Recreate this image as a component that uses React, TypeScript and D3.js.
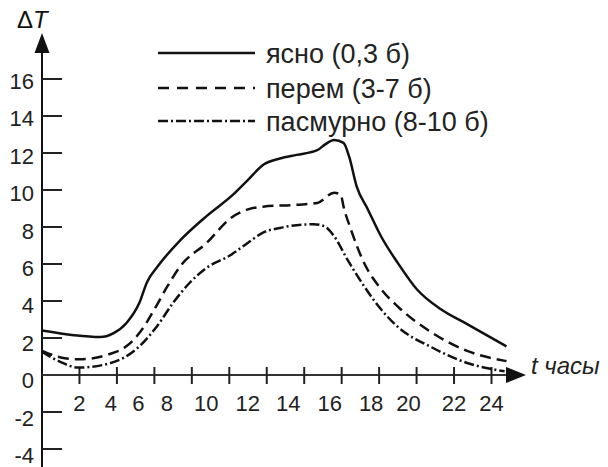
import React from "react";
import * as d3 from "d3";

// ---- data ----
const clearHours = [0, 1.7, 3.1, 3.8, 4.5, 5.2, 5.6, 6.2, 7.4, 8.8, 10.2, 11.0, 11.8, 12.7, 13.6, 14.7, 15.1, 15.6, 16.1, 16.4, 16.8, 17.4, 18.1, 19.0, 20.0, 21.3, 22.7, 24.8];
const clearValues = [2.4, 2.15, 2.05, 2.25, 2.8, 3.9, 5.0, 5.9, 7.3, 8.6, 9.75, 10.55, 11.35, 11.7, 11.9, 12.15, 12.45, 12.7, 12.55, 11.8, 10.2, 8.95, 7.5, 6.05, 4.65, 3.55, 2.75, 1.55];

const varHours = [0, 1.0, 2.0, 3.5, 4.5, 5.3, 6.0, 6.7, 7.4, 8.8, 10.1, 11.0, 11.8, 13.6, 14.7, 15.6, 15.95, 16.1, 16.5, 17.2, 18.1, 19.0, 20.8, 22.7, 24.8];
const varValues = [1.3, 0.95, 0.85, 1.1, 1.55, 2.4, 3.55, 4.8, 5.9, 7.15, 8.5, 8.95, 9.1, 9.2, 9.3, 9.85, 9.75, 9.1, 7.85, 6.05, 4.65, 3.7, 2.3, 1.3, 0.75];

const overcastHours = [0, 1.0, 1.9, 3.5, 4.4, 5.2, 6.15, 7.0, 7.9, 8.8, 10.1, 11.0, 11.8, 12.7, 14.5, 15.05, 15.6, 16.3, 17.2, 18.1, 19.0, 20.8, 22.7, 24.7];
const overcastValues = [1.25, 0.7, 0.4, 0.6, 0.95, 1.55, 2.65, 3.9, 5.0, 5.8, 6.5, 7.15, 7.7, 7.95, 8.15, 8.05, 7.5, 6.25, 4.8, 3.55, 2.6, 1.5, 0.65, 0.2];

const seriesNames = ["ясно (0,3 б)", "перем (3-7 б)", "пасмурно (8-10 б)"];

const xTickValues = [2, 4, 6, 8, 10, 12, 14, 16, 18, 20, 22, 24];
const yTickValues = [16, 14, 12, 10, 8, 6, 4, 2, -2, -4];
const yLabelValues = [16, 14, 12, 10, 8, 6, 4, 2, 0, -2, -4];

// layout / style
const W = 608;
const H = 467;
const FONT = "'Liberation Sans', Arial, sans-serif";
const xLabelShift = [0, -6, -16, -25, -23, -19, -16, -12, -8, -8, 0, 0];
const dashStyles = ["none", "11,6", "10,3,2,3"];
const legendDash = ["none", "11,8", "10,3,2,3"];

export default function App() {
  const x = d3.scaleLinear().domain([0, 24]).range([42, 491.5]);
  const y = d3.scaleLinear().domain([0, 16]).range([375, 79]);

  const series = [
    clearHours.map((h, i) => [h, clearValues[i]] as [number, number]),
    varHours.map((h, i) => [h, varValues[i]] as [number, number]),
    overcastHours.map((h, i) => [h, overcastValues[i]] as [number, number]),
  ];

  const line = d3
    .line<[number, number]>()
    .x((d) => x(d[0]))
    .y((d) => y(d[1]))
    .curve(d3.curveMonotoneX);

  const axisX = x(0);
  const axisY = y(0);

  return (
    <svg
      width={W}
      height={H}
      viewBox={`0 0 ${W} ${H}`}
      style={{ position: "absolute", left: 0, top: 0, background: "#fff" }}
      fontFamily={FONT}
    >
      <rect x={0} y={0} width={W} height={H} fill="#fff" />

      {/* y axis */}
      <line x1={axisX} y1={H} x2={axisX} y2={50} stroke="#111" strokeWidth={2} />
      <path d={`M${axisX},33 L${axisX - 7.5},53 L${axisX + 7.5},53 Z`} fill="#111" />
      {yTickValues.map((v) => (
        <line key={"yt" + v} x1={axisX} x2={axisX + 20} y1={y(v)} y2={y(v)} stroke="#222" strokeWidth={2} />
      ))}
      {yLabelValues.map((v) => (
        <text
          key={"yl" + v}
          x={34}
          y={y(v) + 2.5 + (16 - v) * 0.2}
          textAnchor="end"
          dominantBaseline="central"
          fontSize={22}
          fill="#222"
        >
          {v}
        </text>
      ))}
      <text x={17} y={28} fontSize={24} fill="#111">
        Δ<tspan fontStyle="italic">T</tspan>
      </text>

      {/* x axis */}
      <line x1={axisX} y1={axisY} x2={510} y2={axisY} stroke="#333" strokeWidth={2} />
      <path d={`M526,${axisY} L506,${axisY - 8} L506,${axisY + 8} Z`} fill="#111" />
      {xTickValues.map((h) => (
        <line key={"xt" + h} x1={x(h)} x2={x(h)} y1={axisY - 8} y2={axisY + 9} stroke="#222" strokeWidth={2} />
      ))}
      {xTickValues.map((h, i) => (
        <text
          key={"xl" + h}
          x={x(h) + xLabelShift[i]}
          y={403}
          textAnchor="middle"
          dominantBaseline="central"
          fontSize={22}
          fill="#222"
        >
          {h}
        </text>
      ))}
      <text x={531} y={374} fontSize={24} fontStyle="italic" fill="#222">
        t часы
      </text>

      {/* curves */}
      {series.map((s, i) => (
        <path
          key={"s" + i}
          d={line(s) || ""}
          fill="none"
          stroke="#111"
          strokeWidth={2.5}
          strokeDasharray={dashStyles[i]}
        />
      ))}

      {/* legend */}
      {seriesNames.map((name, i) => {
        const ly = [53, 88, 121][i];
        return (
          <g key={"lg" + i}>
            <line x1={158} x2={255} y1={ly} y2={ly} stroke="#111" strokeWidth={2.4} strokeDasharray={legendDash[i]} />
            <text x={266} y={ly + 1} dominantBaseline="central" fontSize={27} fill="#222">
              {name}
            </text>
          </g>
        );
      })}
    </svg>
  );
}
